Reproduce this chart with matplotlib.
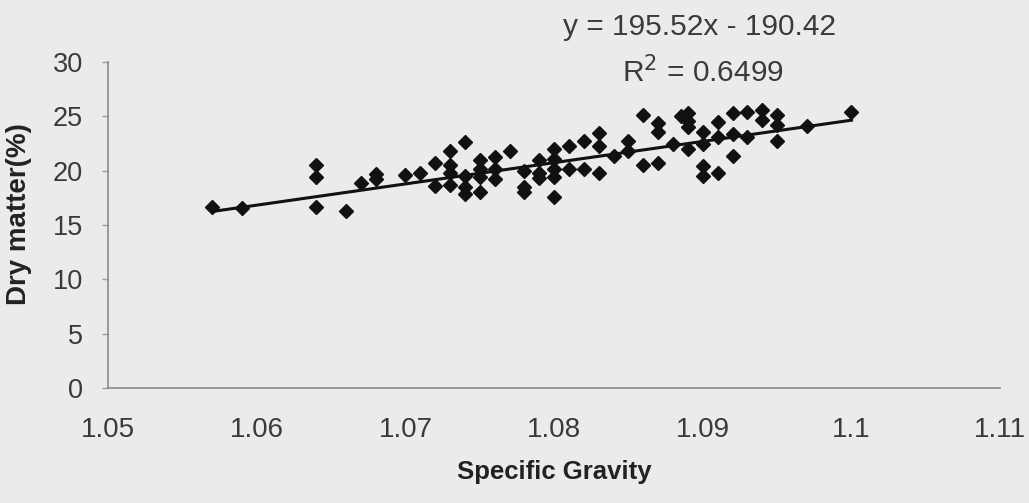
import matplotlib
matplotlib.use("Agg")
import matplotlib.pyplot as plt
import numpy as np

plt.rcParams['font.family'] = ['Liberation Sans', 'DejaVu Sans']

# Data
specific_gravity = [
    1.057, 1.059, 1.064, 1.064, 1.064, 1.066, 1.067, 1.068, 1.068, 1.070,
    1.071, 1.072, 1.072, 1.073, 1.073, 1.073, 1.073, 1.074, 1.074, 1.074,
    1.074, 1.075, 1.075, 1.075, 1.075, 1.076, 1.076, 1.076, 1.077, 1.078,
    1.078, 1.078, 1.079, 1.079, 1.079, 1.080, 1.080, 1.080, 1.080, 1.080,
    1.081, 1.081, 1.082, 1.082, 1.083, 1.083, 1.083, 1.084, 1.085, 1.085,
    1.086, 1.086, 1.087, 1.087, 1.087, 1.088, 1.0885, 1.089, 1.089, 1.089,
    1.089, 1.090, 1.090, 1.090, 1.090, 1.091, 1.091, 1.091, 1.092, 1.092,
    1.092, 1.093, 1.093, 1.094, 1.094, 1.095, 1.095, 1.095, 1.097, 1.100,
]
dry_matter = [
    16.7, 16.6, 20.5, 19.4, 16.7, 16.3, 18.9, 19.7, 19.2, 19.6,
    19.8, 20.7, 18.6, 21.8, 20.5, 19.8, 18.7, 22.6, 19.5, 18.5,
    17.9, 21.0, 20.2, 19.4, 18.0, 21.3, 20.2, 19.2, 21.8, 20.0,
    18.5, 18.0, 21.0, 19.8, 19.3, 22.0, 21.1, 20.2, 19.4, 17.6,
    22.3, 20.2, 22.7, 20.2, 23.5, 22.3, 19.8, 21.4, 22.7, 21.8,
    25.1, 20.5, 24.4, 23.6, 20.7, 22.5, 25.0, 25.3, 24.6, 24.0,
    22.0, 23.6, 22.5, 20.4, 19.5, 24.5, 23.1, 19.8, 25.3, 23.4,
    21.4, 25.4, 23.1, 25.6, 24.7, 25.1, 24.2, 22.7, 24.1, 25.4,
]
slope = 195.52
intercept = -190.42
r_squared = 0.6499
x_ticks = [1.05, 1.06, 1.07, 1.08, 1.09, 1.10, 1.11]
x_tick_labels = ["1.05", "1.06", "1.07", "1.08", "1.09", "1.1", "1.11"]
y_ticks = [0, 5, 10, 15, 20, 25, 30]

bg = '#ebebeb'
fig = plt.figure(figsize=(10.29, 5.03), dpi=100, facecolor=bg)
ax = fig.add_axes([0.105, 0.2286, 0.867, 0.648])
ax.set_facecolor(bg)

ax.plot(specific_gravity, dry_matter, linestyle='none', marker='D',
        markersize=6.8, color='#111111', zorder=3)
xl = np.array([min(specific_gravity), max(specific_gravity)])
ax.plot(xl, slope * xl + intercept, color='#111111', linewidth=2.2, zorder=2)

ax.set_xlim(1.05, 1.11)
ax.set_ylim(0, 30)
ax.set_xticks(x_ticks)
ax.set_xticklabels(x_tick_labels)
ax.set_yticks(y_ticks)

for s in ['top', 'right']:
    ax.spines[s].set_visible(False)
for s in ['left', 'bottom']:
    ax.spines[s].set_color('#8a8a8a')
    ax.spines[s].set_linewidth(1.2)

tick_color = '#3a3a3a'
ax.tick_params(axis='y', direction='out', length=4, width=1, color='#9a9a9a',
               labelsize=19.5, labelcolor=tick_color, pad=14)
ax.tick_params(axis='x', direction='out', length=0, labelsize=20,
               labelcolor=tick_color, pad=21)

ax.set_xlabel('Specific Gravity', fontsize=18.5, fontweight='bold',
              color='#222222', labelpad=12)
ax.set_ylabel('Dry matter(%)', fontsize=20, fontweight='bold',
              color='#222222')
ax.yaxis.set_label_coords(-0.085, 0.535)

fig.text(0.680, 0.946, 'y = 195.52x - 190.42', fontsize=21.5, color=tick_color,
         ha='center', va='center')
fig.text(0.683, 0.857, 'R$^2$ = 0.6499', fontsize=21.5, color=tick_color,
         ha='center', va='center')

fig.savefig('out.png', dpi=100, facecolor=bg)
